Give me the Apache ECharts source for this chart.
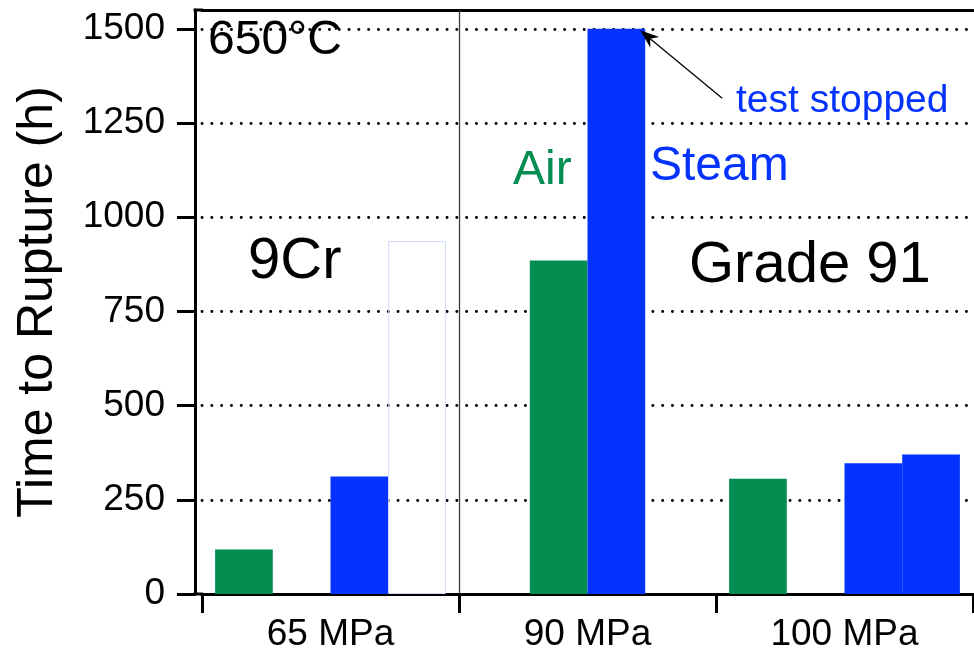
<!DOCTYPE html>
<html>
<head>
<meta charset="utf-8">
<script src="https://cdn.jsdelivr.net/npm/echarts@6/dist/echarts.min.js"></script>
<style>
  html, body { margin: 0; padding: 0; background: #fff; }
  #chart { width: 974px; height: 655px; }
</style>
</head>
<body>
<div id="chart"></div>
<script>
// Stress levels (x categories)
const categories = ['65 MPa', '90 MPa', '100 MPa'];
// Time to rupture (h); four bar slots per stress level
const airFirst    = [118, null, 306];
const airSecond   = [null, 885, null];
const steamFirst  = [312, 1500, 347];
const steamSecond = [937, null, 370];
// index in steamSecond of the test still running (drawn as an open outline)
const openBarIndex = 0;
// y-axis tick labels
const yTicks = [0, 250, 500, 750, 1000, 1250, 1500];

const FONT = '"Liberation Sans", Arial, Helvetica, sans-serif';
const GREEN = '#038d50';
const BLUE = '#0433ff';
const BAR_W = '22.45%';

const chart = echarts.init(document.getElementById('chart'), null, { renderer: 'canvas' });

function barSeries(name, values, color) {
  return {
    type: 'bar',
    name: name,
    barWidth: BAR_W,
    barGap: '0%',
    itemStyle: { color: color },
    data: values.map((v, i) => {
      if (name === 'steamSecond' && i === openBarIndex) {
        return { value: v, itemStyle: { color: 'rgba(255,255,255,0)', borderColor: '#d2d9ff', borderWidth: 1 } };
      }
      return v;
    })
  };
}

const option = {
  animation: false,
  backgroundColor: '#fff',
  textStyle: { fontFamily: FONT },
  grid: { left: 202, right: 1, top: 10, bottom: 61 },
  xAxis: [
    {
      type: 'category',
      data: categories,
      position: 'bottom',
      axisLine: { lineStyle: { color: '#000', width: 3 } },
      axisTick: { show: true, length: 19, lineStyle: { color: '#000', width: 3 } },
      axisLabel: { fontSize: 37, color: '#000', margin: 22, fontFamily: FONT },
      splitLine: { show: false }
    },
    {
      type: 'category',
      data: categories,
      position: 'top',
      axisLine: { lineStyle: { color: '#000', width: 3 } },
      axisTick: { show: false },
      axisLabel: { show: false },
      splitLine: { show: false }
    }
  ],
  yAxis: {
    type: 'value',
    min: 0,
    max: 1550,
    interval: 250,
    offset: 7,
    name: 'Time to Rupture (h)',
    nameLocation: 'middle',
    nameGap: 132,
    nameTextStyle: { fontSize: 50, color: '#000', fontFamily: FONT },
    axisLine: { show: true, lineStyle: { color: '#000', width: 3 } },
    axisTick: { show: true, length: 18, lineStyle: { color: '#000', width: 3 }, customValues: yTicks },
    axisLabel: { fontSize: 37, color: '#000', margin: 30, fontFamily: FONT, customValues: yTicks, formatter: (v) => String(v) },
    splitLine: { show: true, lineStyle: { color: '#000', width: 2.9, type: [0.1, 9.7], cap: 'round' } }
  },
  series: [
    barSeries('airFirst', airFirst, GREEN),
    barSeries('airSecond', airSecond, GREEN),
    barSeries('steamFirst', steamFirst, BLUE),
    barSeries('steamSecond', steamSecond, BLUE)
  ]
};

chart.setOption(option);

// Frame corners, alloy separator, annotations and the "test stopped" arrow
const yBottom = chart.convertToPixel({ yAxisIndex: 0 }, 0);
const yTop = chart.convertToPixel({ yAxisIndex: 0 }, 1550);
const axisX = 202 - 7;
const catW = (974 - 202 - 1) / categories.length;
const barPx = catW * 0.2245;
const c0 = chart.convertToPixel({ xAxisIndex: 0 }, categories[0]);
const c1 = chart.convertToPixel({ xAxisIndex: 0 }, categories[1]);
const sepX = Math.round((c0 + c1) / 2) + 0.5;
const stopCenter = chart.convertToPixel({ xAxisIndex: 0, yAxisIndex: 0 }, ['90 MPa', 1500]);
const tip = [stopCenter[0] + barPx - 5, stopCenter[1] + 1.5];
const tail = [tip[0] + 82, tip[1] + 68];
const dx = tip[0] - tail[0], dy = tip[1] - tail[1];
const len = Math.sqrt(dx * dx + dy * dy);
const ux = dx / len, uy = dy / len, px = -uy, py = ux;
const headL = 19, headW = 7, notch = 13;
const arrowHead = [
  tip,
  [tip[0] - ux * headL + px * headW, tip[1] - uy * headL + py * headW],
  [tip[0] - ux * notch, tip[1] - uy * notch],
  [tip[0] - ux * headL - px * headW, tip[1] - uy * headL - py * headW]
];

chart.setOption({
  graphic: [
    { type: 'line', z: 100, shape: { x1: axisX - 1.5, y1: yTop, x2: 203, y2: yTop }, style: { stroke: '#000', lineWidth: 3 } },
    { type: 'line', z: 100, shape: { x1: axisX - 1.5, y1: yBottom, x2: 203, y2: yBottom }, style: { stroke: '#000', lineWidth: 3 } },
    { type: 'line', z: 1, shape: { x1: sepX, y1: yTop, x2: sepX, y2: yBottom }, style: { stroke: '#3a3a3a', lineWidth: 1.3 } },
    { type: 'line', z: 100, shape: { x1: tail[0], y1: tail[1], x2: tip[0] - ux * notch, y2: tip[1] - uy * notch }, style: { stroke: '#000', lineWidth: 1.3 } },
    { type: 'polygon', z: 100, shape: { points: arrowHead }, style: { fill: '#000' } },
    { type: 'text', z: 100, x: 208, y: 41, style: { text: '650°C', fill: '#000', fontSize: 48, fontFamily: FONT, verticalAlign: 'middle' } },
    { type: 'text', z: 100, x: 248, y: 262, style: { text: '9Cr', fill: '#000', fontSize: 58, fontFamily: FONT, verticalAlign: 'middle' } },
    { type: 'text', z: 100, x: 689, y: 266, style: { text: 'Grade 91', fill: '#000', fontSize: 58, fontFamily: FONT, verticalAlign: 'middle' } },
    { type: 'text', z: 100, x: 513, y: 171, style: { text: 'Air', fill: GREEN, fontSize: 48, fontFamily: FONT, verticalAlign: 'middle' } },
    { type: 'text', z: 100, x: 650, y: 167, style: { text: 'Steam', fill: BLUE, fontSize: 48, fontFamily: FONT, verticalAlign: 'middle' } },
    { type: 'text', z: 100, x: 736, y: 101, style: { text: 'test stopped', fill: BLUE, fontSize: 39, fontFamily: FONT, verticalAlign: 'middle' } }
  ]
});
</script>
</body>
</html>
